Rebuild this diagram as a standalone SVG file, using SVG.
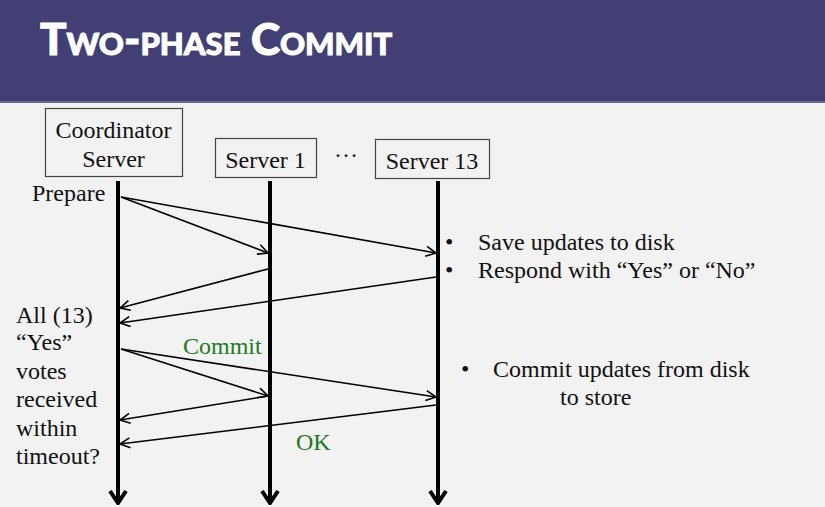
<svg xmlns="http://www.w3.org/2000/svg" width="825" height="507" viewBox="0 0 825 507">
  <style>
    text.t { font-family: 'Liberation Serif', 'Times New Roman', serif; font-size: 24px; fill: #111; }
    text.g { fill: #1e7a1e; }
    .box { fill: none; stroke: #444; stroke-width: 1.2; }
    .life { stroke: #000; stroke-width: 4; fill: none; }
    .msg { stroke: #000; stroke-width: 1.6; fill: none; marker-end: url(#open); }
    text.title { font-family: 'Lato', 'Open Sans', sans-serif; font-weight: 900; font-size: 44px; fill: #fff; stroke: #fff; stroke-width: 1; font-variant: small-caps; }
  </style>
  <defs>
    <marker id="open" viewBox="0 0 12 12" refX="11" refY="6" markerWidth="12" markerHeight="12" markerUnits="userSpaceOnUse" orient="auto">
      <path d="M1,1 L11,6 L1,11" fill="none" stroke="#000" stroke-width="1.6"/>
    </marker>
    <marker id="big" viewBox="0 0 20 20" refX="10" refY="18" markerWidth="20" markerHeight="20" markerUnits="userSpaceOnUse" orient="0">
      <path d="M2,6 L10,18 L18,6" fill="none" stroke="#000" stroke-width="4"/>
    </marker>
  </defs>

  <rect x="0" y="0" width="825" height="507" fill="#f2f2f2"/>
  <rect x="0" y="0" width="825" height="101" fill="#413f73"/>
  <rect x="0" y="101" width="825" height="2" fill="#6a6890"/>
  <text class="title" x="40" y="55">Two-phase Commit</text>

  <g id="coordinator">
    <rect class="box" x="45.5" y="108.5" width="137" height="68"/>
    <text class="t" x="113.5" y="138" text-anchor="middle">Coordinator</text>
    <text class="t" x="113.5" y="167" text-anchor="middle">Server</text>
  </g>
  <g id="server1">
    <rect class="box" x="215.5" y="138.5" width="101" height="39"/>
    <text class="t" x="265.5" y="168" text-anchor="middle">Server 1</text>
  </g>
  <text class="t" x="346" y="157" text-anchor="middle">…</text>
  <g id="server13">
    <rect class="box" x="375.5" y="139.5" width="114" height="39"/>
    <text class="t" x="432" y="169" text-anchor="middle">Server 13</text>
  </g>

  <g id="lifelines">
    <line class="life" x1="118" y1="181" x2="118" y2="503" marker-end="url(#big)"/>
    <line class="life" x1="270" y1="181" x2="270" y2="503" marker-end="url(#big)"/>
    <line class="life" x1="438" y1="181" x2="438" y2="503" marker-end="url(#big)"/>
  </g>

  <g id="connectors">
    <line class="msg" x1="121" y1="197" x2="268" y2="253"/>
    <line class="msg" x1="121" y1="197" x2="436" y2="253"/>
    <line class="msg" x1="268" y1="269" x2="120" y2="308"/>
    <line class="msg" x1="436" y1="277" x2="120" y2="323"/>
    <line class="msg" x1="121" y1="349" x2="268" y2="396"/>
    <line class="msg" x1="121" y1="349" x2="436" y2="397"/>
    <line class="msg" x1="268" y1="396" x2="120" y2="420"/>
    <line class="msg" x1="436" y1="405" x2="120" y2="444"/>
  </g>

  <g id="labels">
    <text class="t" x="32" y="201">Prepare</text>
    <text class="t" x="16" y="323">All (13)</text>
    <text class="t" x="16" y="350">“Yes”</text>
    <text class="t" x="16" y="379">votes</text>
    <text class="t" x="16" y="407">received</text>
    <text class="t" x="16" y="436">within</text>
    <text class="t" x="16" y="464">timeout?</text>
    <text class="t g" x="183" y="354">Commit</text>
    <text class="t g" x="296" y="450">OK</text>
  </g>

  <g id="notes">
    <text class="t" x="445" y="250">•</text>
    <text class="t" x="478" y="250">Save updates to disk</text>
    <text class="t" x="445" y="278">•</text>
    <text class="t" x="478" y="278">Respond with “Yes” or “No”</text>
    <text class="t" x="461" y="377">•</text>
    <text class="t" x="493" y="377">Commit updates from disk</text>
    <text class="t" x="560" y="405">to store</text>
  </g>
</svg>
